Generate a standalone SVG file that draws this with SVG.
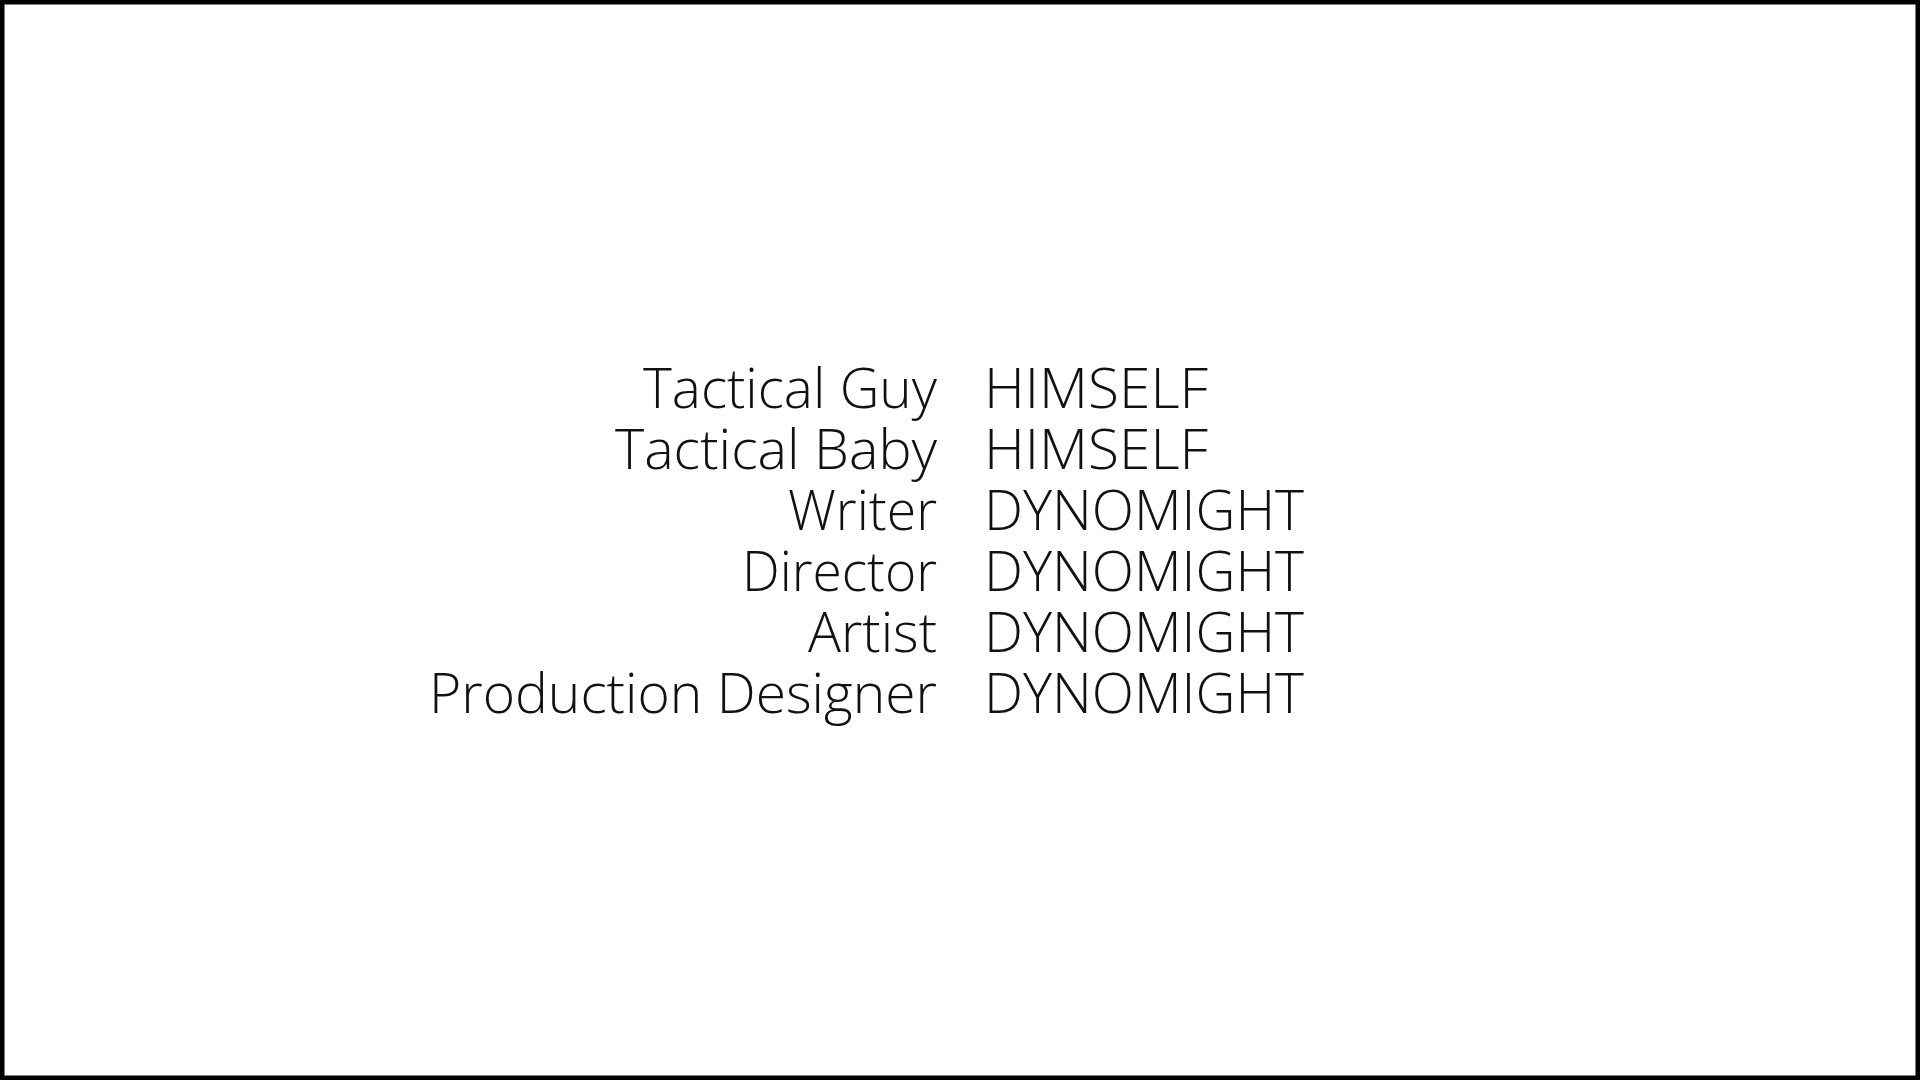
<svg xmlns="http://www.w3.org/2000/svg" width="1920" height="1080" viewBox="0 0 1920 1080">
<style>
.t{font-family:"Open Sans","Lato","Liberation Sans",sans-serif;font-weight:300;font-size:56px;fill:#111}
.r{text-anchor:end}
</style>
<rect x="2" y="2" width="1916" height="1076" fill="#fff" stroke="#000" stroke-width="5"/>
<g id="credits">
<text class="t r" x="937" y="408" textLength="294" lengthAdjust="spacingAndGlyphs">Tactical Guy</text>
<text class="t r" x="937" y="469" textLength="322" lengthAdjust="spacingAndGlyphs">Tactical Baby</text>
<text class="t r" x="937" y="530" textLength="149" lengthAdjust="spacingAndGlyphs">Writer</text>
<text class="t r" x="937" y="591" textLength="195" lengthAdjust="spacingAndGlyphs">Director</text>
<text class="t r" x="937" y="652" textLength="129" lengthAdjust="spacingAndGlyphs">Artist</text>
<text class="t r" x="937" y="713" textLength="508" lengthAdjust="spacingAndGlyphs">Production Designer</text>
<text class="t" x="984" y="408" textLength="224" lengthAdjust="spacingAndGlyphs">HIMSELF</text>
<text class="t" x="984" y="469" textLength="224" lengthAdjust="spacingAndGlyphs">HIMSELF</text>
<text class="t" x="984" y="530" textLength="320" lengthAdjust="spacingAndGlyphs">DYNOMIGHT</text>
<text class="t" x="984" y="591" textLength="320" lengthAdjust="spacingAndGlyphs">DYNOMIGHT</text>
<text class="t" x="984" y="652" textLength="320" lengthAdjust="spacingAndGlyphs">DYNOMIGHT</text>
<text class="t" x="984" y="713" textLength="320" lengthAdjust="spacingAndGlyphs">DYNOMIGHT</text>
</g>
</svg>
